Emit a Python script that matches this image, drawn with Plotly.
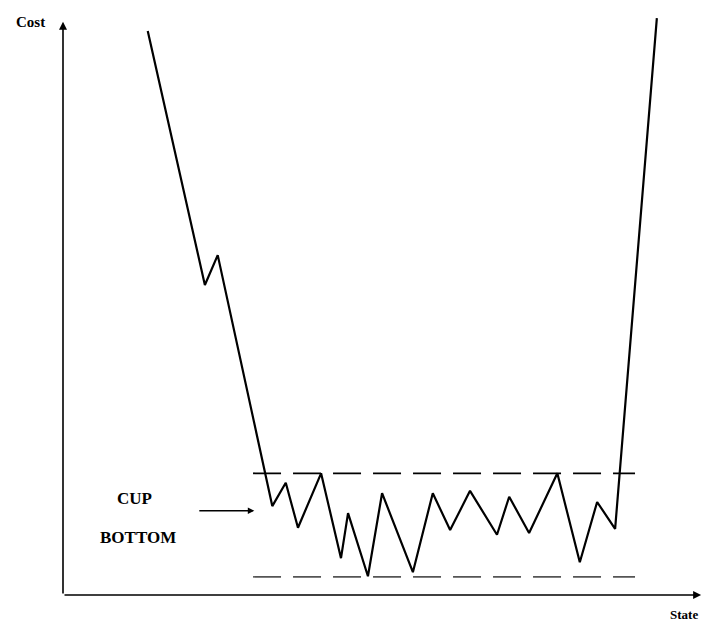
import plotly.graph_objects as go

# Cost curve over the state space (axis units 0-100)
state = [13.2, 22.1, 24.1, 32.6, 34.7, 36.6, 40.2, 43.3, 44.4, 47.5, 49.7, 54.5,
         57.6, 60.3, 63.4, 67.6, 69.5, 72.6, 77.0, 80.5, 83.2, 86.0, 92.5]
cost = [96.4, 53.0, 58.1, 15.2, 19.2, 11.5, 20.8, 6.3, 14.0, 3.2, 17.4, 3.9,
        17.4, 11.1, 17.8, 10.3, 16.8, 10.6, 20.8, 5.6, 15.9, 11.3, 98.6]

# Cup bottom band
band_x = [29.6, 89.1]
upper_level = 20.8
lower_level = 3.1

fig = go.Figure()
fig.add_trace(go.Scatter(x=band_x, y=[upper_level] * 2, mode="lines",
                         line=dict(color="black", width=1.8, dash="28px,12px"),
                         hoverinfo="skip"))
fig.add_trace(go.Scatter(x=band_x, y=[lower_level] * 2, mode="lines",
                         line=dict(color="#555", width=1.6, dash="28px,12px"),
                         hoverinfo="skip"))
fig.add_trace(go.Scatter(x=state, y=cost, mode="lines",
                         line=dict(color="black", width=2.2),
                         hoverinfo="skip"))

font = dict(family="Liberation Serif, Times New Roman, serif", size=17, color="black")
ann = []
# axes with arrowheads
ann.append(dict(x=0, y=98.0, ax=0, ay=0, xref="x", yref="y", axref="x", ayref="y",
                text="", showarrow=True, arrowhead=2, arrowsize=1.0, arrowwidth=1.6,
                arrowcolor="black", standoff=0))
ann.append(dict(x=99.4, y=0, ax=0, ay=0, xref="x", yref="y", axref="x", ayref="y",
                text="", showarrow=True, arrowhead=2, arrowsize=1.0, arrowwidth=1.6,
                arrowcolor="black", standoff=0))
# cup bottom pointer
ann.append(dict(x=29.8, y=14.4, ax=21.0, ay=14.4, xref="x", yref="y", axref="x", ayref="y",
                text="", showarrow=True, arrowhead=2, arrowsize=1.0, arrowwidth=1.3,
                arrowcolor="black", standoff=0))
# labels (paper coordinates so they may sit outside the plot area)
ann.append(dict(x=-0.051, y=0.979, xref="paper", yref="paper", text="<b>Cost</b>",
                showarrow=False, font=dict(font, size=15), xanchor="center", yanchor="middle"))
ann.append(dict(x=0.99, y=-0.034, xref="paper", yref="paper", text="<b>State</b>",
                showarrow=False, font=dict(font, size=13), xanchor="right", yanchor="middle",
                borderpad=0))
ann.append(dict(x=0.112, y=0.165, xref="paper", yref="paper", text="<b>CUP</b>",
                showarrow=False, font=font, xanchor="center", yanchor="middle"))
ann.append(dict(x=0.117, y=0.099, xref="paper", yref="paper", text="<b>BOTTOM</b>",
                showarrow=False, font=font, xanchor="center", yanchor="middle"))

fig.update_layout(
    width=705, height=618,
    margin=dict(l=55, r=8, t=2, b=31),
    paper_bgcolor="white", plot_bgcolor="white",
    showlegend=False,
    annotations=ann,
    xaxis=dict(range=[0, 100], visible=False, fixedrange=True),
    yaxis=dict(range=[0, 100], visible=False, fixedrange=True),
)
fig.write_html("out.html")
